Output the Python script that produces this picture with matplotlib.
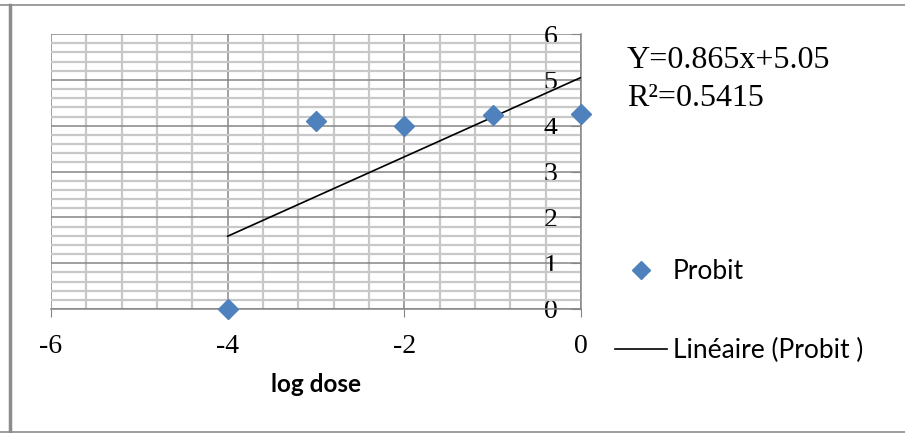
import numpy as np
import matplotlib
matplotlib.use("Agg")
import matplotlib.pyplot as plt
from matplotlib.ticker import MultipleLocator
from matplotlib.lines import Line2D

plt.rcParams['axes.unicode_minus'] = False

# data
log_dose = [-4, -3, -2, -1, 0]
probit = [0.0, 4.10, 4.00, 4.24, 4.26]
eq_text = "Y=0.865x+5.05"
r2_text = "R\u00b2=0.5415"
x_ticks = [-6, -4, -2, 0]
y_ticks = [0, 1, 2, 3, 4, 5, 6]

blue = '#4F81BD'
major_grey = '#868686'
minor_grey = '#C8C8C8'
serif = 'Liberation Serif'
sans = 'Lato'

fig = plt.figure(figsize=(9.05, 4.33), dpi=100)
ax = fig.add_axes([51 / 905, 1 - 309 / 433, 530 / 905, 275 / 433])

# linear trend of the probit points
coef = np.polyfit(log_dose, probit, 1)
xs = np.array([min(log_dose), max(log_dose)])
ax.plot(xs, np.polyval(coef, xs), color='black', lw=1.2, zorder=3)
ax.plot(log_dose, probit, linestyle='none', marker='D', ms=10.5,
        color=blue, zorder=4, clip_on=False)

ax.set_xlim(-6, 0)
ax.set_ylim(0, 6)
ax.set_xticks(x_ticks)
ax.set_yticks(y_ticks)
ax.xaxis.set_minor_locator(MultipleLocator(0.4))
ax.yaxis.set_minor_locator(MultipleLocator(0.2))
ax.set_axisbelow(True)
ax.grid(which='minor', color=minor_grey, lw=1.6)
ax.grid(which='major', color=major_grey, lw=1.1)

for s in ['top', 'left']:
    ax.spines[s].set_visible(False)
for s in ['right', 'bottom']:
    ax.spines[s].set_color(major_grey)
    ax.spines[s].set_linewidth(1.1)

ax.tick_params(which='minor', length=0)
ax.tick_params(axis='x', which='major', direction='out', length=6,
               color=major_grey, pad=12, labelsize=20)
ax.yaxis.set_ticks_position('right')
ax.tick_params(axis='y', which='major', direction='in', length=7,
               color=major_grey, pad=-17, labelsize=20)
for lab in ax.get_xticklabels() + ax.get_yticklabels():
    lab.set_family(serif)
for lab in ax.get_yticklabels():
    lab.set_horizontalalignment('right')

ax.set_xlabel('log dose', fontfamily=sans, fontweight='bold',
              fontsize=17.5, labelpad=10)

fig.text(627 / 905, 1 - 60 / 433, eq_text, family=serif, fontsize=23,
         va='center', ha='left')
fig.text(627 / 905, 1 - 98 / 433, r2_text, family=serif, fontsize=23,
         va='center', ha='left')

handles = [Line2D([], [], linestyle='none', marker='D', ms=9, color=blue),
           Line2D([], [], color='black', lw=1.2)]
fig.legend(handles, ['Probit', 'Lin\u00e9aire (Probit )'],
           loc='center left', bbox_to_anchor=(615 / 905, 1 - 311 / 433),
           frameon=False, prop={'family': sans, 'size': 19},
           handlelength=1.97, handletextpad=0.23, labelspacing=2.05,
           borderpad=0, borderaxespad=0)

# outer chart frame
fig.add_artist(Line2D([0, 1], [1 - 5 / 433, 1 - 5 / 433],
                      transform=fig.transFigure, color='#8C8C8C', lw=1.2))
fig.add_artist(Line2D([0, 1], [1 - 432 / 433, 1 - 432 / 433],
                      transform=fig.transFigure, color='#8C8C8C', lw=1.2))
fig.add_artist(Line2D([9.5 / 905, 9.5 / 905], [1 - 5 / 433, 1 - 432 / 433],
                      transform=fig.transFigure, color='#8C8C8C', lw=2.5))

fig.savefig('out.png', dpi=100)
